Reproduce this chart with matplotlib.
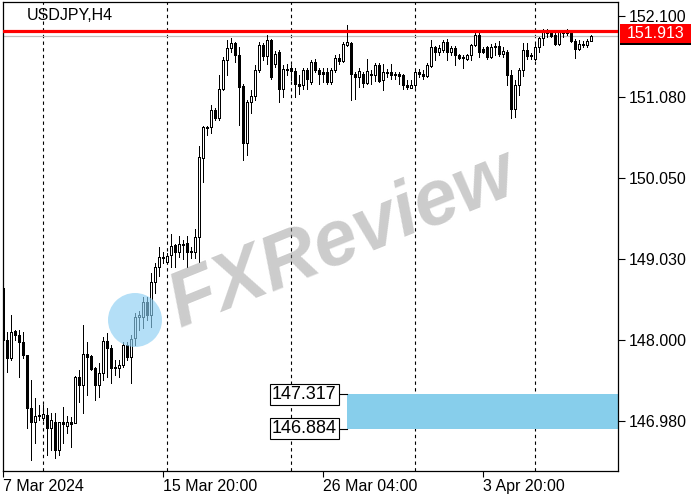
import numpy as np
import matplotlib
matplotlib.use('Agg')
import matplotlib.pyplot as plt
from matplotlib.patches import Rectangle, Circle
import matplotlib.transforms as mtransforms

plt.rcParams['font.family'] = ['Liberation Sans', 'DejaVu Sans']

# USDJPY H4 candles, 7 Mar 2024 -> 8 Apr 2024
opens = [148.66, 148.00, 147.78, 148.12, 148.07, 147.98, 147.81, 147.14, 146.97, 147.04,
         147.02, 147.06, 146.89, 146.97, 146.61, 146.97, 146.92, 146.97, 146.95, 147.54,
         147.43, 147.83, 147.80, 147.65, 147.43, 147.59, 147.99, 147.90, 147.66, 147.65,
         147.69, 147.94, 147.79, 148.03, 148.30, 148.30, 148.48, 148.32, 148.74, 148.93,
         149.04, 148.99, 149.08, 149.20, 149.12, 149.22, 149.23, 149.13, 149.12, 149.31,
         150.31, 150.68, 150.70, 150.91, 150.81, 151.18, 151.54, 151.70, 151.76, 151.61,
         151.21, 150.50, 151.01, 151.09, 151.42, 151.73, 151.59, 151.80, 151.49, 151.64,
         151.18, 151.42, 151.44, 151.40, 151.24, 151.23, 151.42, 151.27, 151.52, 151.42,
         151.39, 151.39, 151.27, 151.42, 151.57, 151.53, 151.73, 151.76, 151.37, 151.33,
         151.37, 151.25, 151.37, 151.35, 151.48, 151.29, 151.38, 151.39, 151.37, 151.37,
         151.35, 151.23, 151.19, 151.23, 151.39, 151.37, 151.34, 151.47, 151.71, 151.65,
         151.67, 151.77, 151.65, 151.70, 151.61, 151.58, 151.56, 151.61, 151.73, 151.86,
         151.68, 151.71, 151.58, 151.72, 151.72, 151.62, 151.64, 151.35, 150.92, 151.23,
         151.42, 151.67, 151.60, 151.56, 151.71, 151.82, 151.89, 151.89, 151.86, 151.75,
         151.90, 151.90, 151.90, 151.78, 151.68, 151.73, 151.73, 151.78]
highs = [148.70, 148.10, 148.32, 148.13, 148.13, 148.10, 147.81, 147.50, 147.27, 147.18,
         147.18, 147.14, 147.08, 147.08, 146.97, 147.16, 147.04, 147.03, 147.55, 147.62,
         148.19, 147.98, 147.81, 147.66, 147.71, 148.04, 148.09, 147.94, 147.75, 147.75,
         147.98, 147.98, 148.07, 148.35, 148.37, 148.55, 148.55, 148.85, 148.98, 149.18,
         149.12, 149.11, 149.34, 149.22, 149.32, 149.27, 149.32, 149.18, 149.41, 150.46,
         150.71, 150.71, 150.98, 150.94, 151.35, 151.58, 151.80, 151.82, 151.77, 151.71,
         151.24, 151.04, 151.16, 151.48, 151.77, 151.76, 151.86, 151.81, 151.66, 151.67,
         151.48, 151.49, 151.48, 151.44, 151.35, 151.44, 151.44, 151.54, 151.56, 151.44,
         151.44, 151.44, 151.44, 151.61, 151.62, 151.77, 151.99, 151.77, 151.39, 151.44,
         151.39, 151.56, 151.42, 151.51, 151.51, 151.49, 151.43, 151.49, 151.39, 151.39,
         151.37, 151.29, 151.29, 151.42, 151.43, 151.42, 151.51, 151.80, 151.72, 151.73,
         151.80, 151.81, 151.72, 151.72, 151.62, 151.61, 151.62, 151.75, 151.90, 151.92,
         151.71, 151.72, 151.75, 151.76, 151.78, 151.71, 151.67, 151.42, 151.29, 151.44,
         151.76, 151.76, 151.63, 151.77, 151.83, 151.94, 151.94, 151.90, 151.89, 151.92,
         151.92, 151.94, 151.92, 151.81, 151.80, 151.78, 151.81, 151.86]
lows = [147.84, 147.60, 147.75, 148.00, 147.54, 147.78, 146.89, 146.49, 146.70, 146.99,
        146.99, 146.55, 146.61, 146.51, 146.55, 146.70, 146.83, 146.65, 146.95, 147.22,
        147.08, 147.31, 147.62, 147.24, 147.28, 147.50, 147.54, 147.46, 147.56, 147.54,
        147.66, 147.75, 147.46, 147.94, 148.13, 148.16, 148.26, 148.17, 148.60, 148.81,
        148.98, 148.98, 148.93, 148.93, 149.05, 149.03, 148.93, 149.04, 149.04, 148.99,
        150.00, 150.60, 150.62, 150.79, 150.79, 151.16, 151.35, 151.65, 151.52, 150.72,
        150.28, 150.34, 150.87, 151.04, 151.39, 151.54, 151.49, 151.30, 151.45, 151.01,
        151.08, 151.35, 151.29, 151.08, 151.11, 151.18, 151.18, 151.24, 151.39, 151.24,
        151.27, 151.24, 151.24, 151.39, 151.49, 151.52, 151.72, 151.04, 151.05, 151.20,
        151.20, 151.24, 151.24, 151.28, 151.26, 151.16, 151.33, 151.30, 151.30, 151.24,
        151.18, 151.18, 151.19, 151.20, 151.33, 151.30, 151.33, 151.46, 151.54, 151.61,
        151.65, 151.54, 151.61, 151.48, 151.56, 151.44, 151.54, 151.54, 151.72, 151.58,
        151.63, 151.56, 151.57, 151.61, 151.59, 151.58, 151.23, 150.81, 150.82, 151.10,
        151.34, 151.56, 151.56, 151.54, 151.65, 151.73, 151.84, 151.83, 151.73, 151.73,
        151.83, 151.86, 151.77, 151.57, 151.67, 151.71, 151.71, 151.78]
closes = [148.00, 147.78, 148.10, 148.07, 147.98, 147.81, 147.14, 146.97, 147.04, 147.06,
          147.07, 146.89, 146.99, 146.61, 146.97, 146.94, 146.97, 146.94, 147.54, 147.43,
          147.83, 147.79, 147.64, 147.43, 147.59, 147.99, 147.90, 147.65, 147.65, 147.69,
          147.94, 147.79, 148.02, 148.30, 148.32, 148.48, 148.32, 148.74, 148.93, 149.05,
          149.05, 149.07, 149.19, 149.12, 149.22, 149.21, 149.12, 149.12, 149.31, 150.32,
          150.70, 150.70, 150.91, 150.81, 151.18, 151.54, 151.70, 151.76, 151.61, 151.20,
          150.49, 151.01, 151.09, 151.42, 151.73, 151.59, 151.80, 151.33, 151.62, 151.18,
          151.43, 151.43, 151.40, 151.24, 151.21, 151.42, 151.30, 151.52, 151.42, 151.37,
          151.37, 151.27, 151.42, 151.57, 151.53, 151.75, 151.77, 151.37, 151.33, 151.40,
          151.25, 151.40, 151.35, 151.48, 151.28, 151.39, 151.39, 151.35, 151.36, 151.34,
          151.23, 151.20, 151.23, 151.39, 151.37, 151.34, 151.48, 151.71, 151.65, 151.70,
          151.77, 151.65, 151.70, 151.61, 151.57, 151.57, 151.61, 151.73, 151.86, 151.65,
          151.65, 151.58, 151.71, 151.71, 151.62, 151.66, 151.35, 150.92, 151.23, 151.42,
          151.67, 151.59, 151.59, 151.71, 151.82, 151.90, 151.90, 151.85, 151.75, 151.90,
          151.89, 151.89, 151.78, 151.68, 151.75, 151.75, 151.78, 151.85]

x_tick_bars = [0, 40, 80, 120]
x_tick_labels = ['7 Mar 2024', '15 Mar 20:00', '26 Mar 04:00', '3 Apr 20:00']
grid_bars = [10, 41, 72, 103, 133]
price_ticks = [152.100, 151.080, 150.050, 149.030, 148.000, 146.980]
resistance = 151.913
bid = 151.847
zone_top = 147.317
zone_bottom = 146.884
zone_start_bar = 86

fig = plt.figure(figsize=(7, 5), dpi=100)
ax = fig.add_axes([3 / 700, 29 / 500, 615 / 700, 469 / 500])
ax.set_xlim(-0.05, 153.75)
ax.set_ylim(146.348, 152.277)

# dashed period separators
for b in grid_bars:
    ax.axvline(b, color='black', lw=0.8, linestyle=(0, (3, 3)), zorder=1)

# support zone
ax.add_patch(Rectangle((zone_start_bar, zone_bottom), 200, zone_top - zone_bottom,
                       facecolor='#87CEEB', edgecolor='none', zorder=1))
for lvl in (zone_top, zone_bottom):
    ax.plot([83.7, zone_start_bar], [lvl, lvl], color='black', lw=0.8, zorder=2)
    ax.text(83.4, lvl, f'{lvl:.3f}', ha='right', va='center', fontsize=13,
            bbox=dict(boxstyle='square,pad=0.12', facecolor='white',
                      edgecolor='black', linewidth=0.8), zorder=5)

# candles
x = np.arange(len(opens))
o = np.array(opens)
c = np.array(closes)
ax.vlines(x, lows, highs, color='black', lw=0.72, zorder=3, antialiased=False)
bottom = np.minimum(o, c)
height = np.maximum(np.abs(c - o), 0.012)
colors = ['black' if cc < oo else 'white' for oo, cc in zip(o, c)]
ax.bar(x, height, bottom=bottom, width=0.5, color=colors, edgecolor='black',
       linewidth=0.72, zorder=4, antialiased=False)

# resistance and bid lines
ax.axhline(bid, color='#c0c0c0', lw=0.9, zorder=2)
ax.axhline(resistance, color='#ff0000', lw=2.3, zorder=6)

# price labels on the right scale
tr = ax.get_yaxis_transform()
ax.add_patch(Rectangle((1.0033, 151.733), 0.1155, 0.215, transform=tr,
                       facecolor='black', edgecolor='none', clip_on=False, zorder=7))
ax.add_patch(Rectangle((1.0033, 151.758), 0.1155, 0.241, transform=tr,
                       facecolor='#ff0000', edgecolor='none', clip_on=False, zorder=8))
ax.text(1.061, 151.879, f'{resistance:.3f}', transform=tr, color='white',
        fontsize=11.5, ha='center', va='center', zorder=9, clip_on=False)

ax.yaxis.tick_right()
ax.set_yticks(price_ticks)
ax.set_yticklabels([f'{p:.3f}' for p in price_ticks])
ax.set_xticks(x_tick_bars)
ax.set_xticklabels(x_tick_labels)
for lbl in ax.get_xticklabels():
    lbl.set_ha('left')
ax.tick_params(axis='y', direction='out', length=5, width=0.8, labelsize=11.5, pad=3)
ax.tick_params(axis='x', direction='out', length=4, width=0.8, labelsize=11.5, pad=2)
for s in ax.spines.values():
    s.set_linewidth(0.9)

ax.text(0.039, 0.988, 'USDJPY,H4', transform=ax.transAxes, ha='left', va='top',
        fontsize=11.5, zorder=10)

# watermark
fig.add_artist(Circle((135, 180), 27, transform=mtransforms.IdentityTransform(),
                      facecolor='#8ccff3', edgecolor='none', alpha=0.65, zorder=20))
fig.text(0.49, 0.52, 'FXReview', rotation=22, fontsize=56, fontweight='bold',
         style='italic', color='#9a9a9a', alpha=0.5, ha='center', va='center', zorder=21)

fig.savefig('out.png', dpi=100)
